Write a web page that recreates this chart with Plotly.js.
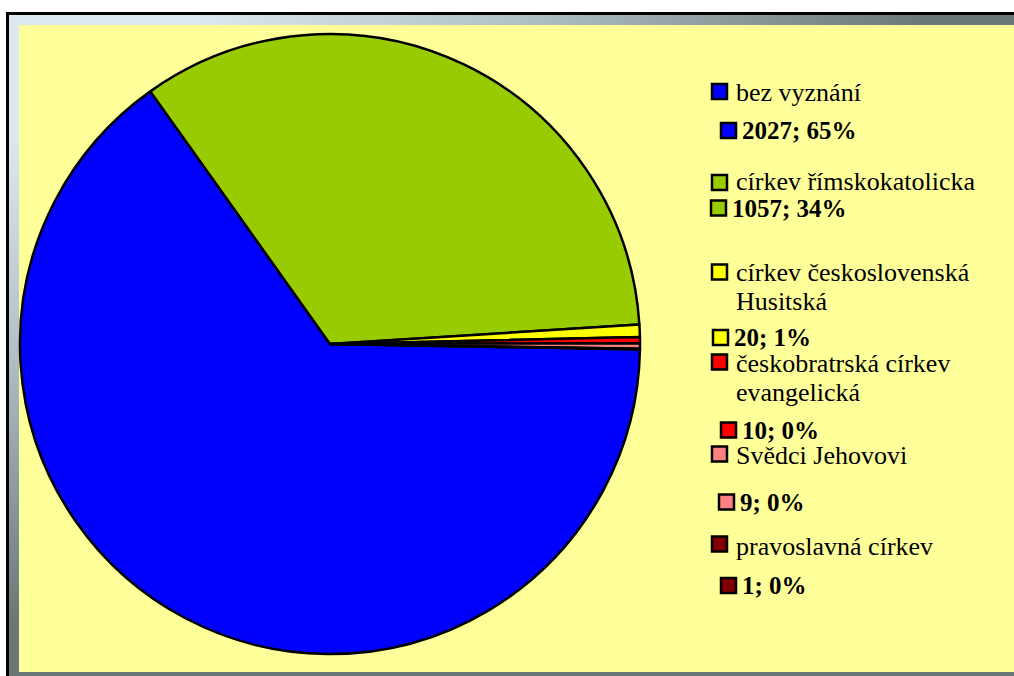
<!DOCTYPE html>
<html>
<head>
<meta charset="utf-8">
<script src="https://cdn.plot.ly/plotly-3.0.1.min.js"></script>
<style>
  html, body { margin: 0; padding: 0; background: #ffffff; }
  #wrap { position: relative; width: 1014px; height: 676px; overflow: hidden; background: #ffffff; }
  #frame { position: absolute; left: 6px; top: 12px; width: 1008px; height: 664px;
    border-top: 3px solid #000; border-left: 3px solid #000; box-sizing: border-box;
    background: radial-gradient(ellipse 1000px 660px at 0 0, #DDE9F0 18%, #B2C2C6 50%, #6B7777 92%); }
  #chart { position: absolute; left: 0; top: 0; width: 1014px; height: 676px; }
</style>
</head>
<body>
<div id="wrap">
  <div id="frame"></div>
  <div id="chart"></div>
</div>
<script>
// ---- data ----
const labels = ["bez vyznání", "církev římskokatolicka", "církev československá Husitská",
                "českobratrská církev evangelická", "Svědci Jehovovi", "pravoslavná církev"];
const legendLines = [["bez vyznání"], ["církev římskokatolicka"], ["církev československá", "Husitská"],
                     ["českobratrská církev", "evangelická"], ["Svědci Jehovovi"], ["pravoslavná církev"]];
const values = [2027, 1057, 20, 10, 9, 1];
const colors = ["#0000FF", "#99CC00", "#FFFF00", "#FF0000", "#FF8080", "#800000"];

// ---- layout helpers (pixel positions of the legend rows) ----
const W = 1014, H = 676;
const px = x => x / W;
const py = y => 1 - y / H;

const nameSquareX = 712;
const nameTextX = 734;
const nameLineY = [[92], [182], [272, 302], [363, 392], [455], [546]];
const nameSquareY = [91.5, 182.5, 272, 362, 454, 544];
const valSquareX = [721, 711, 713, 721, 719, 721];
const valSquareY = [130.5, 208, 337.5, 430, 502, 585.5];
const sq = 15;

const total = values.reduce((a, b) => a + b, 0);
const valueLabels = values.map(v => v + "; " + Math.round(v / total * 100) + "%");

const fontName = "Liberation Serif, Times New Roman, serif";

const shapes = [{
  type: "rect", xref: "paper", yref: "paper", layer: "below",
  x0: px(19), x1: px(1014), y0: py(672), y1: py(25),
  fillcolor: "#FFFF99", line: { width: 0 }
}];
const annotations = [];

for (let i = 0; i < labels.length; i++) {
  shapes.push({
    type: "rect", xref: "paper", yref: "paper",
    x0: px(nameSquareX), x1: px(nameSquareX + sq),
    y0: py(nameSquareY[i] + sq / 2), y1: py(nameSquareY[i] - sq / 2),
    fillcolor: colors[i], line: { color: "#000", width: 2.5 }
  });
  shapes.push({
    type: "rect", xref: "paper", yref: "paper",
    x0: px(valSquareX[i]), x1: px(valSquareX[i] + sq),
    y0: py(valSquareY[i] + sq / 2), y1: py(valSquareY[i] - sq / 2),
    fillcolor: colors[i], line: { color: "#000", width: 2.5 }
  });
  legendLines[i].forEach((t, k) => {
    annotations.push({
      xref: "paper", yref: "paper", x: px(nameTextX), y: py(nameLineY[i][k]),
      xanchor: "left", yanchor: "middle", showarrow: false, text: t,
      font: { family: fontName, size: 26, color: "#000" }
    });
  });
  annotations.push({
    xref: "paper", yref: "paper", x: px(valSquareX[i] + sq + 4), y: py(valSquareY[i]),
    xanchor: "left", yanchor: "middle", showarrow: false, text: "<b>" + valueLabels[i] + "</b>",
    font: { family: fontName, size: 25, color: "#000" }
  });
}

const cx = 330, cy = 344, r = 310;

const trace = {
  type: "pie",
  labels: labels,
  values: values,
  sort: false,
  direction: "clockwise",
  rotation: 91,
  marker: { colors: colors, line: { color: "#000", width: 2.5 } },
  textinfo: "none",
  hoverinfo: "skip",
  showlegend: false,
  domain: { x: [px(cx - r), px(cx + r)], y: [py(cy + r), py(cy - r)] }
};

const layout = {
  width: W, height: H,
  margin: { l: 0, r: 0, t: 0, b: 0 },
  paper_bgcolor: "rgba(0,0,0,0)",
  plot_bgcolor: "rgba(0,0,0,0)",
  showlegend: false,
  shapes: shapes,
  annotations: annotations
};

Plotly.newPlot("chart", [trace], layout, { staticPlot: true, displayModeBar: false });
</script>
</body>
</html>
